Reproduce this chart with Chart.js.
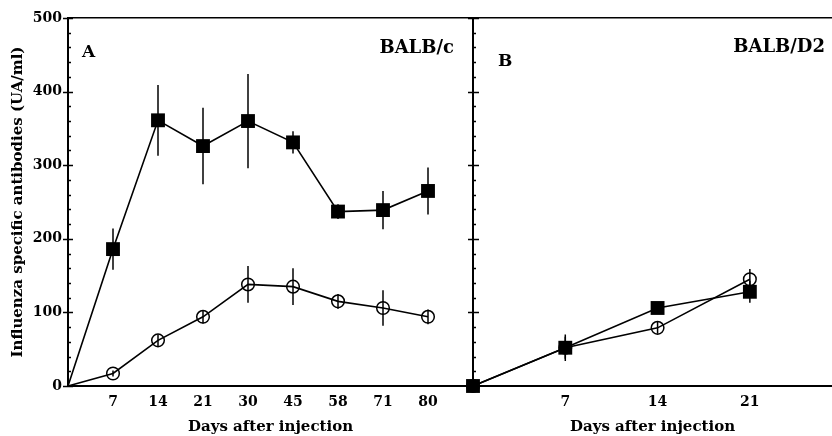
<!DOCTYPE html>
<html><head><meta charset="utf-8">
<script src="https://cdn.jsdelivr.net/npm/chart.js@4"></script>
<style>
html,body{margin:0;padding:0;background:#fff;}
#wrap{position:relative;width:832px;height:436px;overflow:hidden;background:#fff;}
#ca{position:absolute;left:0;top:0;}
#cb{position:absolute;left:463px;top:0;}
</style></head><body>
<div id="wrap"><canvas id="ca" width="473" height="436"></canvas><canvas id="cb" width="369" height="436"></canvas></div>
<script>
// ---- data ----
const daysA = ['', '7', '14', '21', '30', '45', '58', '71', '80'];
const squaresA = [0, 186, 361, 326, 360, 331, 237, 239, 265];
const squaresAErr = [0, 28, 48, 52, 64, 15, 10, 26, 32];
const circlesA = [0, 17, 62, 94, 138, 135, 115, 106, 94];
const circlesAErr = [0, 4, 8, 9, 25, 25, 10, 24, 10];

const daysB = ['', '7', '14', '21'];
const squaresB = [0, 52, 106, 128];
const squaresBErr = [0, 18, 8, 15];
const circlesB = [0, 52, 79, 145];
const circlesBErr = [0, 15, 8, 14];

const yTitle = 'Influenza specific antibodies (UA/ml)';
const xTitle = 'Days after injection';
const FONT = "'DejaVu Serif'";

const toPts = arr => arr.map((v, i) => ({x: i, y: v}));

const errorBars = {
  id: 'errorBars',
  afterDatasetsDraw(chart) {
    const {ctx} = chart; const ys = chart.scales.y;
    chart.data.datasets.forEach((ds, i) => {
      if (!ds.errors) return;
      const meta = chart.getDatasetMeta(i);
      ctx.save(); ctx.strokeStyle = '#000'; ctx.lineWidth = 1.5;
      meta.data.forEach((pt, j) => {
        const e = ds.errors[j]; if (!e) return;
        const v = ds.data[j].y;
        ctx.beginPath();
        ctx.moveTo(pt.x, ys.getPixelForValue(v + e));
        ctx.lineTo(pt.x, ys.getPixelForValue(v - e));
        ctx.stroke();
      });
      ctx.restore();
    });
  }
};

const axisTicks = {
  id: 'axisTicks',
  afterDraw(chart, args, o) {
    const {ctx} = chart; const ys = chart.scales.y; const x0 = chart.chartArea.left;
    ctx.save(); ctx.strokeStyle = '#000'; ctx.lineWidth = 1.3;
    ctx.beginPath();
    for (let v = ys.min; v <= ys.max; v += o.minorStep) {
      const py = Math.round(ys.getPixelForValue(v)) + 0.5;
      const major = v % o.majorStep === 0;
      ctx.moveTo(x0 - (major ? o.outer : 0), py);
      ctx.lineTo(x0 + (major ? o.inner : o.minor), py);
    }
    ctx.stroke(); ctx.restore();
  }
};

const panelText = {
  id: 'panelText',
  afterDraw(chart, args, o) {
    const {ctx, chartArea} = chart;
    ctx.save(); ctx.fillStyle = '#000'; ctx.textBaseline = 'middle';
    o.items.forEach(it => {
      ctx.font = 'bold ' + it.size + 'px ' + FONT;
      ctx.textAlign = it.align;
      const x = it.align === 'left' ? chartArea.left + it.dx : chartArea.right - it.dx;
      ctx.fillText(it.text, x, it.y);
    });
    ctx.restore();
  }
};

function circleDS(vals, errs, showOrigin) {
  return {data: toPts(vals), errors: errs, borderColor: '#000', borderWidth: 1.6,
    pointStyle: 'circle', pointRadius: vals.map((v, i) => (i === 0 && !showOrigin) ? 0 : 6.3),
    pointBorderWidth: 1.5, pointBorderColor: '#000',
    pointBackgroundColor: 'rgba(0,0,0,0)', fill: false, tension: 0, clip: false, xAxisID: 'x', yAxisID: 'y'};
}
function squareDS(vals, errs, showOrigin) {
  return {data: toPts(vals), errors: errs, borderColor: '#000', borderWidth: 1.6,
    pointStyle: 'rect', pointRadius: vals.map((v, i) => (i === 0 && !showOrigin) ? 0 : 9.8),
    pointBorderWidth: 0, pointBorderColor: '#000',
    pointBackgroundColor: '#000', fill: false, tension: 0, clip: false, xAxisID: 'x', yAxisID: 'y'};
}

function makeOptions(labels, xmax, showY, texts) {
  return {
    responsive: false, animation: false, devicePixelRatio: 1,
    layout: {autoPadding: false, padding: {top: 18, left: 0, right: 0, bottom: 0}},
    plugins: {legend: {display: false}, tooltip: {enabled: false},
      axisTicks: {minorStep: 20, majorStep: 100, outer: 5, inner: showY ? 5 : 6, minor: 3},
      panelText: {items: texts}},
    scales: {
      x: {type: 'linear', position: 'bottom', min: 0, max: xmax,
        afterFit: s => { s.height = 50; s.paddingLeft = 0; s.paddingRight = 0; },
        afterBuildTicks: s => { s.ticks = labels.map((l, i) => ({value: i})).filter(t => labels[t.value] !== ''); },
        ticks: {autoSkip: false, maxRotation: 0, padding: 8, color: '#000',
          font: {family: FONT, weight: 'bold', size: 14},
          callback: v => labels[v] ?? ''},
        grid: {display: false, drawTicks: false},
        border: {display: true, color: '#000', width: 2},
        title: {display: true, text: xTitle, color: '#000', padding: {top: 0, bottom: 0},
          font: {family: FONT, weight: 'bold', size: 15}}},
      xTop: {type: 'linear', position: 'top', min: 0, max: xmax,
        afterFit: s => { s.height = 0; s.paddingLeft = 0; s.paddingRight = 0; },
        ticks: {display: false}, grid: {display: false, drawTicks: false},
        border: {display: true, color: '#000', width: 1.5}},
      y: {type: 'linear', position: 'left', min: 0, max: 500,
        afterFit: s => { s.width = showY ? 68 : 10; },
        ticks: {display: showY, stepSize: 100, padding: 6, color: '#000',
          font: {family: FONT, weight: 'bold', size: 14}},
        grid: {display: false, drawTicks: false},
        border: {display: true, color: '#000', width: 2},
        title: {display: showY, text: yTitle, color: '#000', padding: {top: 9, bottom: 0},
          font: {family: FONT, weight: 'bold', size: 15}}}
    }
  };
}

new Chart(document.getElementById('ca'), {
  type: 'line',
  data: {datasets: [circleDS(circlesA, circlesAErr, false), squareDS(squaresA, squaresAErr, false)]},
  options: makeOptions(daysA, 9, true, [
    {text: 'A', dx: 14, y: 53, align: 'left', size: 17},
    {text: 'BALB/c', dx: 19, y: 48, align: 'right', size: 18}]),
  plugins: [errorBars, axisTicks, panelText]
});

new Chart(document.getElementById('cb'), {
  type: 'line',
  data: {datasets: [circleDS(circlesB, circlesBErr, true), squareDS(squaresB, squaresBErr, true)]},
  options: makeOptions(daysB, 3.89, false, [
    {text: 'B', dx: 25, y: 62, align: 'left', size: 17},
    {text: 'BALB/D2', dx: 7, y: 47, align: 'right', size: 18}]),
  plugins: [errorBars, axisTicks, panelText]
});
</script>
</body></html>
